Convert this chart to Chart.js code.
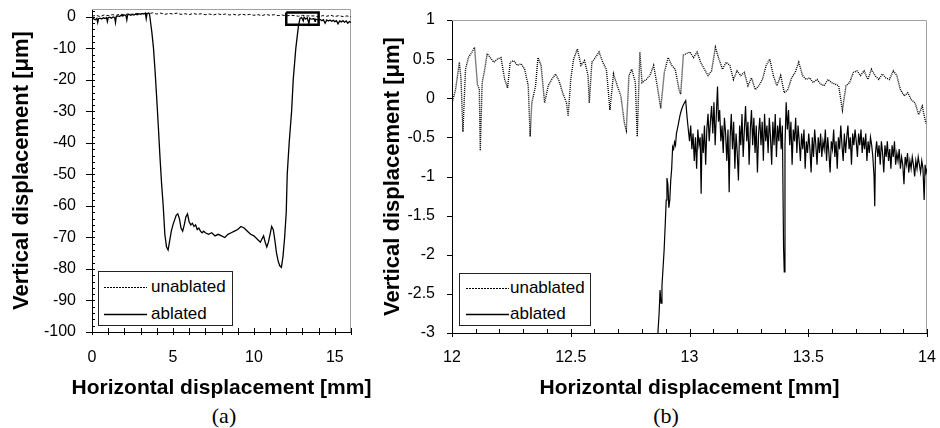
<!DOCTYPE html>
<html><head><meta charset="utf-8">
<script src="https://cdn.jsdelivr.net/npm/chart.js@4.4.1/dist/chart.umd.min.js"></script>
<style>
html,body{margin:0;padding:0;background:#fff;width:940px;height:428px;overflow:hidden;position:relative}
canvas{position:absolute;top:0}
#cA{left:0}
#cB{left:372px}
.cap{position:absolute;top:404px;line-height:24px;font-family:'Liberation Serif','Times New Roman',serif;font-size:22px;color:#000;transform:translateX(-50%);white-space:nowrap}
.lbox{position:absolute;border:1.5px solid #222;background:#fff;box-sizing:border-box}
.ltxt{position:absolute;height:20px;line-height:20px;font-family:'Liberation Sans',Arial,sans-serif;font-size:17px;color:#000;white-space:nowrap}
.lsvg{position:absolute;height:3px;overflow:visible}
</style></head>
<body>
<canvas id="cA" width="385" height="401"></canvas>
<canvas id="cB" width="568" height="401"></canvas>

<div class="lbox" style="left:98px;top:271px;width:135px;height:55px"></div>
<svg class="lsvg" style="left:104px;top:286px;width:43px"><line x1="0" y1="1.5" x2="43" y2="1.5" stroke="#000" stroke-width="1" stroke-dasharray="2 1"/></svg>
<div class="ltxt" id="lA1" style="left:151px;top:277px"></div>
<svg class="lsvg" style="left:104px;top:313px;width:43px"><line x1="0" y1="1.5" x2="43" y2="1.5" stroke="#000" stroke-width="1.3"/></svg>
<div class="ltxt" id="lA2" style="left:151px;top:304px"></div>

<div class="lbox" style="left:459px;top:273px;width:132px;height:53px"></div>
<svg class="lsvg" style="left:466px;top:287px;width:43px"><line x1="0" y1="1.5" x2="43" y2="1.5" stroke="#000" stroke-width="1" stroke-dasharray="2 1"/></svg>
<div class="ltxt" id="lB1" style="left:510px;top:278px"></div>
<svg class="lsvg" style="left:466px;top:313px;width:43px"><line x1="0" y1="1.5" x2="43" y2="1.5" stroke="#000" stroke-width="1.3"/></svg>
<div class="ltxt" id="lB2" style="left:510px;top:304px"></div>

<div class="cap" id="capA" style="left:224px"></div>
<div class="cap" id="capB" style="left:666px"></div>

<script>
// ---------------- DATA ----------------
const seriesNames = ['unablated', 'ablated'];
const panelCaptions = ['(a)', '(b)'];
const xTitle = 'Horizontal displacement [mm]';
const yTitle = 'Vertical displacement [\u03bcm]';

// Panel (a) tick labels
const ticksA_x = [0, 5, 10, 15];
const ticksA_y = [-100, -90, -80, -70, -60, -50, -40, -30, -20, -10, 0];
// Panel (b) tick labels
const ticksB_x = [12, 12.5, 13, 13.5, 14];
const ticksB_y = [-3, -2.5, -2, -1.5, -1, -0.5, 0, 0.5, 1];

// Panel (a): unablated profile
const unablatedA_x = [0,0.25,0.5,0.75,1,1.25,1.5,1.75,2,2.25,2.5,2.75,3,3.25,3.5,3.75,4,4.25,4.5,4.75,5,5.25,5.5,5.75,6,6.25,6.5,6.75,7,7.25,7.5,7.75,8,8.25,8.5,8.75,9,9.25,9.5,9.75,10,10.25,10.5,10.75,11,11.25,11.5,11.75,12,12.25,12.5,12.75,13,13.25,13.5,13.75,14,14.25,14.5,14.75,15,15.25,15.5,15.75,16];
const unablatedA_y = [0.2,0.5,0.1,0.6,0.4,0.7,0.5,0.9,0.6,1.0,0.8,1.1,0.9,1.2,1.0,1.3,0.9,1.2,0.8,1.1,0.9,1.2,0.8,1.0,0.7,1.1,0.8,1.0,0.7,0.9,0.6,1.0,0.7,0.9,0.6,0.8,0.5,0.9,0.6,0.8,0.5,0.7,0.4,0.8,0.5,0.7,0.4,0.6,0.3,0.5,0.4,0.2,0.5,0.3,0.3,0.3,0.0,0.4,0.2,0.5,0.1,0.4,0.1,0.3,0.0];

// Panel (a): ablated profile
const ablatedA_x = [0,0.1,0.2,0.3,0.35,0.4,0.5,0.6,0.7,0.8,0.9,0.95,1.0,1.1,1.2,1.3,1.4,1.45,1.5,1.6,1.7,1.8,1.9,2.0,2.1,2.15,2.2,2.3,2.4,2.5,2.6,2.7,2.8,2.9,3.0,3.1,3.2,3.3,3.35,3.4,3.5,3.55,3.6,3.7,3.8,3.9,4.0,4.1,4.2,4.3,4.4,4.5,4.6,4.7,4.8,4.9,5.0,5.1,5.2,5.3,5.4,5.5,5.6,5.7,5.8,5.9,6.0,6.1,6.2,6.3,6.4,6.5,6.6,6.7,6.8,6.9,7.0,7.2,7.4,7.6,7.8,8.0,8.2,8.4,8.6,8.8,9.0,9.2,9.4,9.6,9.8,10.0,10.2,10.4,10.5,10.6,10.7,10.8,10.9,11.0,11.1,11.2,11.3,11.4,11.5,11.6,11.7,11.8,11.9,12.0,12.06,12.18,12.33,12.43,12.59,12.75,12.85,12.95,13.05,13.1,13.2,13.3,13.4,13.45,13.5,13.6,13.7,13.78,13.8,13.9,14.0,14.1,14.2,14.3,14.4,14.5,14.6,14.7,14.8,14.9,15.0,15.1,15.2,15.3,15.4,15.5,15.6,15.7,15.8,15.9,16.0];
const ablatedA_y = [-0.8,-0.6,-0.9,-0.5,-1.8,-0.6,-0.4,-0.7,-0.3,-0.5,-0.2,-1.5,-0.3,-0.1,-0.4,0.0,-0.2,-1.8,0.1,0.3,0.1,0.5,0.3,0.6,0.4,-1.0,0.6,0.8,0.5,0.8,0.6,0.9,0.7,1.0,0.8,1.1,0.9,1.2,-0.6,1.0,1.2,1.0,-1,-5,-10,-17.5,-26,-35,-44.5,-53,-60,-69,-73,-74,-71,-68,-66,-64.5,-63,-62.5,-64,-67,-68,-66,-63.5,-62.5,-65,-66,-65.5,-66.5,-66,-67.5,-67,-68,-68.5,-68,-68.5,-69,-68.5,-69.5,-69,-69.5,-70,-69,-68.5,-68,-67.5,-66.5,-67,-68,-69,-69.5,-70.5,-71.5,-70.5,-69.5,-71.5,-73,-71.5,-69,-66.5,-67.5,-71,-75,-77.5,-79,-79.5,-76,-70,-62,-50,-40,-30,-20,-10,-3,-0.5,-0.2,-1.3,-0.1,-0.7,-0.3,-2.2,-0.4,-0.6,-0.7,-0.5,-1.4,-0.7,-0.9,-1.0,-0.8,-1.2,-0.9,-2.0,-1.0,-1.3,-1.0,-1.4,-1.1,-1.5,-1.2,-2.2,-1.3,-1.6,-1.2,-1.7,-1.3,-2.0,-1.5,-1.8];

// Panel (a): zoom window marking the region shown in (b)
const zoomBox_x = [12, 14, 14, 12, 12];
const zoomBox_y = [1.4, 1.4, -2.5, -2.5, 1.4];

// Panel (b): unablated profile
const unablatedB_x = [12.000,12.015,12.031,12.038,12.046,12.057,12.069,12.084,12.095,12.107,12.115,12.119,12.127,12.138,12.148,12.161,12.176,12.191,12.206,12.222,12.234,12.245,12.260,12.275,12.291,12.306,12.321,12.329,12.336,12.352,12.362,12.375,12.390,12.405,12.420,12.436,12.451,12.466,12.482,12.489,12.500,12.512,12.528,12.543,12.558,12.573,12.578,12.589,12.604,12.619,12.635,12.650,12.665,12.680,12.696,12.711,12.726,12.734,12.745,12.757,12.772,12.780,12.791,12.800,12.818,12.833,12.849,12.864,12.879,12.894,12.910,12.925,12.940,12.956,12.963,12.974,12.986,13.002,13.017,13.032,13.047,13.063,13.078,13.093,13.109,13.124,13.139,13.154,13.170,13.185,13.200,13.216,13.231,13.246,13.261,13.277,13.292,13.307,13.323,13.338,13.353,13.368,13.384,13.399,13.414,13.430,13.445,13.460,13.476,13.491,13.506,13.521,13.537,13.552,13.567,13.583,13.598,13.613,13.628,13.644,13.659,13.674,13.690,13.705,13.720,13.735,13.751,13.766,13.781,13.797,13.812,13.827,13.842,13.858,13.873,13.888,13.904,13.919,13.934,13.950,13.965,13.980,13.995];
const unablatedB_y = [-0.06,0.11,0.46,0.24,-0.43,0.37,0.52,0.59,0.65,0.18,0.11,-0.67,0.20,0.37,0.57,0.52,0.46,0.50,0.52,0.24,0.13,0.46,0.48,0.42,0.44,0.37,0.16,-0.49,-0.06,0.16,0.52,0.42,-0.06,0.16,0.24,0.31,0.22,0.07,-0.06,-0.23,0.24,0.50,0.63,0.42,0.48,0.29,-0.06,0.46,0.52,0.59,0.46,0.37,-0.15,0.31,0.16,0.03,-0.32,-0.41,0.29,0.37,0.20,-0.49,0.59,0.20,0.24,0.29,0.42,0.16,-0.13,0.33,0.52,0.42,0.37,0.11,0.05,0.55,0.57,0.59,0.52,0.59,0.46,0.37,0.29,0.35,0.65,0.50,0.37,0.46,0.42,0.24,0.35,0.29,0.33,0.16,0.26,0.11,0.16,0.24,0.42,0.50,0.29,0.16,0.29,0.07,0.11,0.26,0.33,0.46,0.29,0.24,0.26,0.20,0.24,0.18,0.16,0.24,0.20,0.18,0.16,-0.15,0.16,0.20,0.33,0.35,0.29,0.35,0.24,0.37,0.29,0.24,0.31,0.26,0.24,0.35,0.29,0.11,0.03,0.07,-0.02,-0.06,-0.21,-0.10,-0.32];

// Panel (b): ablated profile
const ablatedB_x = [12.862,12.868,12.872,12.876,12.880,12.884,12.888,12.893,12.898,12.902,12.905,12.909,12.913,12.917,12.921,12.925,12.929,12.933,12.937,12.941,12.945,12.950,12.955,12.960,12.966,12.972,12.978,12.984,12.990,12.995,13.000,13.005,13.010,13.015,13.020,13.025,13.030,13.035,13.040,13.045,13.049,13.053,13.058,13.063,13.068,13.073,13.078,13.083,13.088,13.093,13.098,13.103,13.108,13.113,13.118,13.122,13.127,13.132,13.137,13.142,13.147,13.152,13.157,13.162,13.167,13.171,13.176,13.181,13.186,13.191,13.196,13.201,13.206,13.211,13.216,13.221,13.226,13.231,13.236,13.241,13.246,13.251,13.256,13.261,13.266,13.271,13.276,13.281,13.286,13.291,13.296,13.301,13.306,13.311,13.316,13.321,13.326,13.331,13.336,13.341,13.346,13.351,13.356,13.361,13.366,13.371,13.376,13.381,13.386,13.391,13.396,13.399,13.402,13.407,13.412,13.417,13.422,13.427,13.432,13.437,13.442,13.447,13.452,13.457,13.462,13.467,13.472,13.477,13.482,13.487,13.492,13.497,13.502,13.507,13.512,13.517,13.522,13.527,13.532,13.537,13.542,13.547,13.552,13.557,13.562,13.567,13.572,13.577,13.582,13.587,13.592,13.597,13.602,13.607,13.612,13.617,13.622,13.627,13.632,13.637,13.642,13.647,13.652,13.657,13.662,13.667,13.672,13.677,13.682,13.687,13.692,13.697,13.702,13.707,13.712,13.717,13.722,13.727,13.732,13.737,13.742,13.747,13.752,13.757,13.762,13.767,13.772,13.777,13.780,13.783,13.788,13.793,13.798,13.803,13.808,13.813,13.818,13.823,13.828,13.833,13.838,13.843,13.848,13.853,13.858,13.863,13.868,13.873,13.878,13.883,13.888,13.893,13.898,13.903,13.908,13.913,13.918,13.923,13.928,13.933,13.938,13.943,13.948,13.953,13.958,13.963,13.968,13.973,13.978,13.983,13.988,13.992,13.996,14.000];
const ablatedB_y = [-3.3,-2.95,-2.75,-2.45,-2.62,-2.40,-2.20,-1.95,-1.60,-1.30,-1.02,-1.10,-1.40,-1.30,-1.05,-0.90,-0.62,-0.65,-0.56,-0.60,-0.45,-0.38,-0.30,-0.22,-0.15,-0.10,-0.06,-0.03,-0.25,-0.40,-0.55,-0.35,-0.65,-0.45,-0.80,-0.50,-0.90,-0.40,-0.60,-0.50,-1.22,-0.45,-0.70,-0.35,-0.85,-0.40,-0.20,-0.55,-0.30,-0.10,-0.45,-0.05,-0.60,-0.20,0.15,-0.30,-0.15,-0.55,-0.35,-0.70,-0.25,-0.45,-0.80,-0.40,-1.20,-0.50,-0.20,-0.65,-0.30,-0.90,-0.45,-0.70,-1.05,-0.35,-0.60,-0.20,-0.75,-0.40,-0.10,-0.55,-0.30,-0.85,-0.40,-0.15,-0.60,-0.25,-0.70,-0.35,-0.95,-0.45,-0.25,-0.60,-0.30,-0.80,-0.20,-0.55,-0.35,-0.70,-0.25,-0.50,-0.85,-0.30,-0.60,-0.20,-0.75,-0.35,-0.55,-0.25,-0.65,-0.35,-1.90,-2.22,-0.60,-0.05,-0.40,-0.15,-0.60,-0.30,-0.85,-0.40,-0.55,-0.25,-0.70,-0.35,-0.55,-0.80,-0.45,-0.65,-0.40,-0.90,-0.55,-0.70,-0.45,-0.65,-0.95,-0.50,-0.75,-0.40,-0.60,-0.85,-0.50,-0.70,-0.45,-0.75,-0.55,-0.65,-0.40,-0.80,-0.50,-0.70,-0.95,-0.55,-0.65,-0.40,-0.75,-0.55,-0.90,-0.50,-0.65,-0.35,-0.60,-0.80,-0.45,-0.70,-0.50,-0.35,-0.65,-0.50,-0.85,-0.45,-0.60,-0.40,-0.55,-0.75,-0.45,-0.60,-0.40,-0.70,-0.50,-0.65,-0.45,-0.80,-0.55,-0.70,-0.50,-0.60,-0.75,-1.00,-1.38,-0.70,-0.55,-0.75,-0.60,-0.85,-0.55,-0.70,-0.95,-0.60,-0.75,-0.55,-0.80,-0.65,-0.90,-0.60,-0.75,-0.55,-0.85,-0.70,-0.80,-0.65,-0.90,-0.75,-0.85,-1.10,-0.75,-0.85,-0.70,-0.95,-0.80,-0.90,-0.75,-0.85,-1.00,-0.80,-0.90,-0.75,-0.85,-0.95,-0.80,-0.90,-1.30,-0.85,-0.95,-0.90];

// ---------------- RENDER ----------------
const pts = (xs, ys) => { const n = Math.min(xs.length, ys.length); const o = []; for (let i = 0; i < n; i++) o.push({x: xs[i], y: ys[i]}); return o; };
const SANS = "'Liberation Sans', Arial, sans-serif";

document.getElementById('lA1').textContent = seriesNames[0];
document.getElementById('lA2').textContent = seriesNames[1];
document.getElementById('lB1').textContent = seriesNames[0];
document.getElementById('lB2').textContent = seriesNames[1];
document.getElementById('capA').textContent = panelCaptions[0];
document.getElementById('capB').textContent = panelCaptions[1];

// frame, tick marks and axis titles (drawn from the chart's own scales)
const frameTicks = {
  id: 'frameTicks',
  beforeDatasetsDraw(chart, args, o) {
    const {ctx, chartArea: a} = chart;
    ctx.save();
    ctx.strokeStyle = o.frameColor; ctx.lineWidth = 1;
    ctx.beginPath();
    ctx.moveTo(a.left, Math.round(a.top) + 0.5);
    ctx.lineTo(Math.round(a.right) - 0.5, Math.round(a.top) + 0.5);
    ctx.lineTo(Math.round(a.right) - 0.5, a.bottom);
    ctx.stroke();
    ctx.restore();
  },
  afterDatasetsDraw(chart, args, o) {
    const {ctx, chartArea: a, scales} = chart;
    ctx.save();
    ctx.strokeStyle = '#000'; ctx.lineWidth = 1;
    const draw = (scale, spec) => {
      const horiz = scale.isHorizontal();
      const marks = [];
      if (spec.minorStep) {
        const n = Math.round((scale.max - scale.min) / spec.minorStep);
        for (let i = 0; i <= n; i++) marks.push([scale.min + i * spec.minorStep, spec.minor]);
      }
      scale.ticks.forEach(t => marks.push([t.value, spec.major]));
      ctx.beginPath();
      marks.forEach(([v, lens]) => {
        const p = Math.round(scale.getPixelForValue(v)) + 0.5;
        if (horiz) { ctx.moveTo(p, a.bottom - lens[0]); ctx.lineTo(p, a.bottom + lens[1]); }
        else { ctx.moveTo(a.left + lens[0], p); ctx.lineTo(a.left - lens[1], p); }
      });
      ctx.stroke();
    };
    draw(scales.x, o.x); draw(scales.y, o.y);
    // axis titles
    ctx.fillStyle = '#000';
    ctx.textAlign = 'center'; ctx.textBaseline = 'middle';
    ctx.font = 'bold ' + o.xTitleSize + 'px ' + SANS;
    ctx.fillText(o.xTitle, (a.left + a.right) / 2, a.bottom + o.xTitleOffset);
    ctx.save();
    ctx.translate(a.left - o.yTitleOffset, (a.top + a.bottom) / 2);
    ctx.rotate(-Math.PI / 2);
    ctx.font = 'bold ' + o.yTitleSize + 'px ' + SANS;
    ctx.fillText(o.yTitle, 0, 0);
    ctx.restore();
    ctx.restore();
  }
};

function axis(opts) {
  return {
    type: 'linear', position: opts.position, min: opts.min, max: opts.max,
    afterBuildTicks: s => { s.ticks = opts.ticks.map(v => ({value: v})); },
    afterFit: s => {
      if (opts.width) s.width = opts.width;
      if (opts.height) s.height = opts.height;
      s.paddingTop = 0; s.paddingBottom = 0; s.paddingLeft = 0; s.paddingRight = 0;
    },
    grid: {display: false, drawTicks: false},
    border: {display: true, color: '#000', width: 1},
    ticks: {padding: opts.pad, color: '#000', font: {family: SANS, size: 16}, callback: v => String(v), autoSkip: false, maxRotation: 0},
    title: {display: false}
  };
}

new Chart(document.getElementById('cA'), {
  type: 'line',
  data: {datasets: [
    {label: 'zoom', data: pts(zoomBox_x, zoomBox_y), borderColor: '#000', borderWidth: 2.5, pointRadius: 0, fill: false, tension: 0},
    {label: seriesNames[1], data: pts(ablatedA_x, ablatedA_y), borderColor: '#000', borderWidth: 1.3, pointRadius: 0, fill: false, tension: 0},
    {label: seriesNames[0], data: pts(unablatedA_x, unablatedA_y), borderColor: '#000', borderWidth: 1, borderDash: [3, 2], pointRadius: 0, fill: false, tension: 0}
  ]},
  options: {
    responsive: false, animation: false, devicePixelRatio: 1,
    layout: {padding: {left: 9, top: 9, right: 34, bottom: 0}},
    plugins: {legend: {display: false}, tooltip: {enabled: false},
      frameTicks: {frameColor: '#a0a0a0', x: {major: [4, 3], minorStep: 1, minor: [4, 3]}, y: {major: [3, 6], minorStep: 2, minor: [3, 0]},
        xTitle: xTitle, xTitleSize: 21, xTitleOffset: 56, yTitle: yTitle, yTitleSize: 22, yTitleOffset: 70}},
    scales: {
      x: axis({position: 'bottom', min: 0, max: 16, ticks: ticksA_x, height: 69, pad: 16}),
      y: axis({position: 'left', min: -100, max: 2.5, ticks: ticksA_y, width: 83, pad: 16})
    }
  },
  plugins: [frameTicks]
});

new Chart(document.getElementById('cB'), {
  type: 'line',
  data: {datasets: [
    {label: seriesNames[1], data: pts(ablatedB_x, ablatedB_y), borderColor: '#000', borderWidth: 1.2, pointRadius: 0, fill: false, tension: 0},
    {label: seriesNames[0], data: pts(unablatedB_x, unablatedB_y), borderColor: '#000', borderWidth: 1.4, borderDash: [1, 1], pointRadius: 0, fill: false, tension: 0}
  ]},
  options: {
    responsive: false, animation: false, devicePixelRatio: 1,
    layout: {padding: {left: 8, top: 20, right: 13, bottom: 0}},
    plugins: {legend: {display: false}, tooltip: {enabled: false},
      frameTicks: {frameColor: '#a0a0a0', x: {major: [4, 4], minorStep: 0.1, minor: [4, 0]}, y: {major: [0, 5]},
        xTitle: xTitle, xTitleSize: 21, xTitleOffset: 55, yTitle: yTitle, yTitleSize: 22, yTitleOffset: 59}},
    scales: {
      x: axis({position: 'bottom', min: 12, max: 14, ticks: ticksB_x, height: 68, pad: 15}),
      y: axis({position: 'left', min: -3, max: 1, ticks: ticksB_y, width: 72, pad: 17})
    }
  },
  plugins: [frameTicks]
});
</script>
</body></html>
